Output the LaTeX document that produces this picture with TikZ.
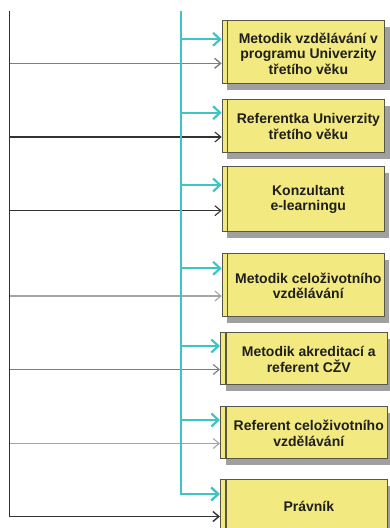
\documentclass[tikz,border=0pt]{standalone}
\usepackage{fontspec}
\setmainfont{Liberation Sans}
\usetikzlibrary{arrows.meta,shadows}

\definecolor{boxfill}{RGB}{242,234,128}
\definecolor{boxline}{RGB}{88,86,70}
\definecolor{trunkteal}{RGB}{62,196,196}
\definecolor{shadowgray}{RGB}{160,160,160}
\definecolor{linedark}{RGB}{50,50,50}
\definecolor{linemid}{RGB}{125,125,125}
\definecolor{linelight}{RGB}{165,165,165}
\definecolor{textdark}{RGB}{30,30,30}

\tikzset{
  post/.style={rectangle, draw=boxline, line width=1.1pt, fill=boxfill,
    anchor=north west, inner sep=0pt,
    drop shadow={shadow xshift=5pt, shadow yshift=-6pt, fill=shadowgray, opacity=1}},
  stripe/.style={draw=boxline, line width=1.1pt},
  lbl/.style={font=\bfseries\fontsize{14}{15.5}\selectfont, text=textdark,
    align=center, inner sep=0pt},
  tealarrow/.style={draw=trunkteal, line width=2.2pt, line join=miter,
    -{Straight Barb[length=7pt,width=13pt]}},
  linkarrow/.style={line width=1.1pt, -{Straight Barb[length=6pt,width=10pt]}},
  darklink/.style={linkarrow, draw=linedark},
  midlink/.style={linkarrow, draw=linemid, line width=1.4pt},
  lightlink/.style={linkarrow, draw=linelight},
}

\begin{document}
\begin{tikzpicture}[x=1pt,y=-1pt]
\useasboundingbox (0,0) rectangle (389,528);

% positions
\node[post, minimum width=162.3pt, minimum height=63pt] (b1) at (221.7,20) {};
\node[post, minimum width=162.3pt, minimum height=53pt] (b2) at (221.7,99) {};
\node[post, minimum width=162pt, minimum height=65pt] (b3) at (221.7,166) {};
\node[post, minimum width=162pt, minimum height=63pt] (b4) at (221.7,253) {};
\node[post, minimum width=166.5pt, minimum height=52pt] (b5) at (220,332) {};
\node[post, minimum width=166.5pt, minimum height=52pt] (b6) at (220,406) {};
\node[post, minimum width=166.5pt, minimum height=53pt] (b7) at (220,479) {};

% inner left stripe of every box
\foreach \b in {b1,b2,b3,b4,b5,b6,b7}
  \draw[stripe] ([xshift=6pt]\b.north west) -- ([xshift=6pt]\b.south west);

% labels
\node[lbl] (l1) at ([xshift=5pt,yshift=-1.5pt]b1.center) {Metodik vzdělávání v\\programu Univerzity\\třetího věku};
\node[lbl] (l2) at ([xshift=5pt,yshift=-0.5pt]b2.center) {Referentka Univerzity\\třetího věku};
\node[lbl] (l3) at ([xshift=5pt,yshift=-0.5pt]b3.center) {Konzultant\\e-learningu};
\node[lbl] (l4) at ([xshift=5pt,yshift=-1pt]b4.center) {Metodik celoživotního\\vzdělávání};
\node[lbl] (l5) at ([xshift=5pt,yshift=-1pt]b5.center) {Metodik akreditací a\\referent CŽV};
\node[lbl] (l6) at ([xshift=5pt,yshift=-0.7pt]b6.center) {Referent celoživotního\\vzdělávání};
\node[lbl] (l7) at ([xshift=5pt,yshift=0pt]b7.center) {Právník};

% left trunk and its links
\coordinate (lefttop) at (9.5,11);
\coordinate (leftend) at (9.5,516.5);
\coordinate (g1) at (9.5,63.3);
\coordinate (g2) at (9.5,137);
\coordinate (g3) at (9.5,210.7);
\coordinate (g4) at (9.5,296);
\coordinate (g5) at (9.5,369.5);
\coordinate (g6) at (9.5,443.5);

\draw[midlink]   (g1) -- (b1.west |- g1);
\draw[darklink]  (g2) -- (b2.west |- g2);
\draw[darklink]  (g3) -- (b3.west |- g3);
\draw[lightlink] (g4) -- (b4.west |- g4);
\draw[midlink, line width=1.1pt] (g5) -- (b5.west |- g5);
\draw[lightlink] (g6) -- (b6.west |- g6);
\draw[darklink, line width=1.4pt] (lefttop) -- (leftend) -- (b7.west |- leftend);

% teal trunk and its links
\coordinate (tealtop) at (180.7,11);
\coordinate (tealend) at (180.7,494);
\coordinate (t1) at (180.7,39.3);
\coordinate (t2) at (180.7,112.7);
\coordinate (t3) at (180.7,185);
\coordinate (t4) at (180.7,268.3);
\coordinate (t5) at (180.7,346);
\coordinate (t6) at (180.7,420);

\draw[tealarrow] (t1) -- (b1.west |- t1);
\draw[tealarrow] (t2) -- (b2.west |- t2);
\draw[tealarrow] (t3) -- (b3.west |- t3);
\draw[tealarrow] (t4) -- (b4.west |- t4);
\draw[tealarrow] (t5) -- (b5.west |- t5);
\draw[tealarrow] (t6) -- (b6.west |- t6);
\draw[tealarrow, line width=2.4pt] (tealtop) -- (tealend) -- (b7.west |- tealend);
\end{tikzpicture}
\end{document}
